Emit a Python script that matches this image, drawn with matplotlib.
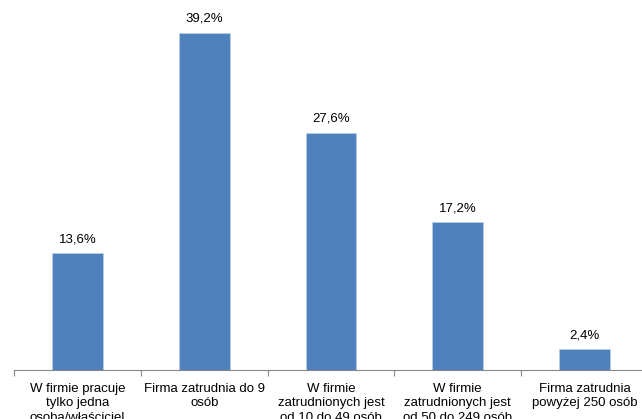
import matplotlib.pyplot as plt
import numpy as np

plt.rcParams['font.family'] = ['Liberation Sans', 'DejaVu Sans']

categories = [
    "W firmie pracuje\ntylko jedna\nosoba/właściciel",
    "Firma zatrudnia do 9\nosób",
    "W firmie\nzatrudnionych jest\nod 10 do 49 osób",
    "W firmie\nzatrudnionych jest\nod 50 do 249 osób",
    "Firma zatrudnia\npowyżej 250 osób",
]
values = [13.6, 39.2, 27.6, 17.2, 2.4]

fig = plt.figure(figsize=(6.42, 4.19), dpi=100)
ax = fig.add_axes([14 / 642, 49 / 419, 634 / 642, 370 / 419])

x = np.arange(len(values))
ax.bar(x, values, width=0.4, color="#4F81BD", edgecolor="#B9CDE5", linewidth=0.6)

for xi, v in zip(x, values):
    ax.text(xi, v + 0.9, f"{v:.1f}%".replace(".", ","),
            ha="center", va="bottom", fontsize=9.5, color="#000000")

ax.set_xlim(-0.5, 4.5)
ax.set_ylim(0, 43)
ax.set_xticks(np.arange(-0.5, 5, 1))
ax.set_xticklabels([])
ax.set_xticks(x, minor=True)
ax.set_xticklabels(categories, minor=True, fontsize=9.5, linespacing=1.3)
ax.tick_params(axis="x", which="major", length=4, color="#888888", direction="out")
ax.tick_params(axis="x", which="minor", length=0, pad=9)
ax.set_yticks([])
for s in ["top", "right", "left"]:
    ax.spines[s].set_visible(False)
ax.spines["bottom"].set_color("#888888")

fig.savefig("out.png", dpi=100)
